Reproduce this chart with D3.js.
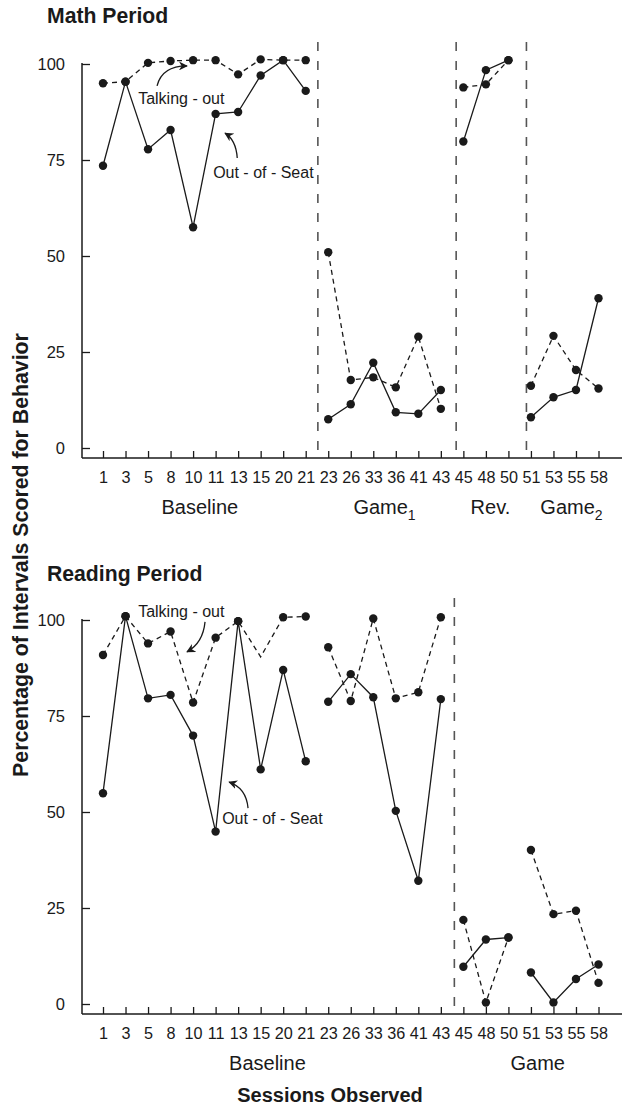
<!DOCTYPE html>
<html><head><meta charset="utf-8">
<script src="https://cdn.jsdelivr.net/npm/d3@7"></script>
<style>
html,body{margin:0;padding:0;background:#fff;}
svg{display:block;font-family:"Liberation Sans",Arial,Helvetica,sans-serif;}
</style></head>
<body>
<svg id="chart" width="626" height="1105"></svg>
<script>
// ---------- data ----------
const sessions = [1,3,5,8,10,11,13,15,20,21,23,26,33,36,41,43,45,48,50,51,53,55,58];
const yTicks = [0,25,50,75,100];
const segments = [[0,9],[10,15],[16,18],[19,22]];

const mathTalking   = [95.0,95.4,100.3,100.8,101,101,97.3,101.2,101,101, 51.0,17.7,18.4,15.8,29.0,10.2, 93.9,94.7,101, 16.2,29.2,20.3,15.5];
const mathOutOfSeat = [73.5,95.4,77.8,82.8,57.5,87.0,87.5,97.0,101,93.0, 7.5,11.4,22.2,9.3,8.9,15.1, 79.8,98.4,101, 8.0,13.2,15.1,39.0];
const readingTalking   = [90.9,101,93.9,97.0,78.5,95.4,99.7,90.4,100.7,100.9, 92.9,78.9,100.4,79.6,81.2,100.7, 21.9,0.4,17.3, 40.1,23.4,24.3,5.5];
const readingOutOfSeat = [54.9,101,79.6,80.5,69.9,44.9,99.7,61.1,87.0,63.2, 78.7,85.9,79.9,50.3,32.1,79.4, 9.7,16.8,17.3, 8.2,0.4,6.5,10.3];
const readingTalkingNoMarker = [7];

const mathPhaseBreaks = [9.54, 15.68, 18.8];
const readingPhaseBreaks = [15.6];
const mathPhaseNames = ["Baseline","Game","Rev.","Game"];
const mathPhaseSubs = ["","1","","2"];
const mathPhaseCenters = [4.3,12.5,17.2,20.8];
const readingPhaseNames = ["Baseline","Game"];
const readingPhaseSubs = ["",""];
const readingPhaseCenters = [7.3,19.3];

// ---------- layout ----------
const svg = d3.select("#chart");
const x = d3.scaleLinear().domain([0,22]).range([103,598.5]);
const ink = "#1a1a1a";

svg.append("defs").append("marker")
  .attr("id","arrow").attr("viewBox","0 0 10 10").attr("refX",9).attr("refY",5)
  .attr("markerWidth",9).attr("markerHeight",9).attr("markerUnits","userSpaceOnUse")
  .attr("orient","auto")
  .append("path").attr("d","M0,0 L10,5 L0,10 L3,5 Z").attr("fill",ink);

function panel(cfg){
  const y = d3.scaleLinear().domain([0,100]).range([cfg.y0, cfg.y0-384]);
  const axisY = cfg.y0 + 10;
  const g = svg.append("g");

  // title
  g.append("text").attr("x",47).attr("y",cfg.titleY).attr("font-size",21.2)
    .attr("font-weight","bold").attr("fill",ink).text(cfg.title);

  // phase lines
  g.selectAll(".phase").data(cfg.breaks).join("line")
    .attr("x1",d=>x(d)).attr("x2",d=>x(d))
    .attr("y1",cfg.phaseTop).attr("y2",axisY)
    .attr("stroke","#555").attr("stroke-width",1.6).attr("stroke-dasharray","9,10");

  // y axis
  const yAxis = d3.axisLeft(y).tickValues(yTicks).tickSizeInner(-8).tickSizeOuter(0).tickPadding(17);
  const ya = g.append("g").attr("transform","translate(82,0)").call(yAxis);
  ya.select(".domain").remove();
  ya.selectAll(".tick line").attr("stroke",ink).attr("stroke-width",1.3);
  ya.selectAll(".tick text").attr("font-size",16.5).attr("fill",ink).attr("font-family",null);
  g.append("line").attr("x1",82).attr("x2",82).attr("y1",y(100)-1).attr("y2",axisY)
    .attr("stroke",ink).attr("stroke-width",1.5);

  // x axis
  const xAxis = d3.axisBottom(x).tickValues(d3.range(sessions.length))
    .tickFormat(i=>sessions[i]).tickSizeInner(-7).tickSizeOuter(0).tickPadding(13);
  const xa = g.append("g").attr("transform",`translate(0,${axisY})`).call(xAxis);
  xa.select(".domain").remove();
  xa.selectAll(".tick line").attr("stroke",ink).attr("stroke-width",1.3);
  xa.selectAll(".tick text").attr("font-size",16.2).attr("fill",ink).attr("font-family",null);
  g.append("line").attr("x1",82).attr("x2",622).attr("y1",axisY).attr("y2",axisY)
    .attr("stroke",ink).attr("stroke-width",1.5);

  // phase labels
  cfg.phaseNames.forEach((n,i)=>{
    const t = g.append("text").attr("x",x(cfg.phaseCenters[i])).attr("y",axisY+56)
      .attr("text-anchor","middle").attr("font-size",20).attr("fill",ink).text(n);
    if(cfg.phaseSubs[i]) t.append("tspan").attr("font-size",14).attr("dy",6).text(cfg.phaseSubs[i]);
  });

  // series
  const line = d3.line().x(d=>x(d.i)).y(d=>y(d.v));
  const series = [
    {vals:cfg.talking, dash:"5,4", noMarker:cfg.noMarker||[]},
    {vals:cfg.out, dash:null, noMarker:[]}
  ];
  series.forEach(s=>{
    segments.forEach(([a,b])=>{
      const pts = d3.range(a,b+1).map(i=>({i, v:s.vals[i]}));
      g.append("path").attr("d",line(pts)).attr("fill","none").attr("stroke",ink)
        .attr("stroke-width",1.3).attr("stroke-dasharray",s.dash);
    });
  });
  series.forEach(s=>{
    g.selectAll(null).data(s.vals.map((v,i)=>({i,v})).filter(d=>!s.noMarker.includes(d.i)))
      .join("circle").attr("cx",d=>x(d.i)).attr("cy",d=>y(d.v)).attr("r",4.2).attr("fill",ink);
  });

  // annotations
  cfg.notes.forEach(n=>{
    g.append("text").attr("x",x(n.tx)).attr("y",y(n.ty)).attr("font-size",16)
      .attr("fill",ink).text(n.text);
    g.append("path")
      .attr("d",`M${x(n.a[0])},${y(n.a[1])} Q${x(n.c[0])},${y(n.c[1])} ${x(n.b[0])},${y(n.b[1])}`)
      .attr("fill","none").attr("stroke",ink).attr("stroke-width",1.3)
      .attr("marker-end","url(#arrow)");
  });
}

panel({
  title:"Math Period", titleY:23, y0:448, phaseTop:42,
  breaks:mathPhaseBreaks, phaseNames:mathPhaseNames, phaseSubs:mathPhaseSubs, phaseCenters:mathPhaseCenters,
  talking:mathTalking, out:mathOutOfSeat,
  notes:[
    {text:"Talking - out", tx:1.56, ty:89.6, a:[2.4,94.3], c:[2.62,99.5], b:[3.73,99.5]},
    {text:"Out - of - Seat", tx:4.89, ty:70.3, a:[5.96,75.5], c:[5.91,80.2], b:[5.42,82.0]}
  ]
});
panel({
  title:"Reading Period", titleY:581, y0:1004, phaseTop:598,
  breaks:readingPhaseBreaks, phaseNames:readingPhaseNames, phaseSubs:readingPhaseSubs, phaseCenters:readingPhaseCenters,
  talking:readingTalking, out:readingOutOfSeat, noMarker:readingTalkingNoMarker,
  notes:[
    {text:"Talking - out", tx:1.56, ty:100.8, a:[4.53,99.5], c:[4.44,94.0], b:[3.73,91.7]},
    {text:"Out - of - Seat", tx:5.29, ty:46.9, a:[6.44,51.0], c:[6.36,56.3], b:[5.6,57.8]}
  ]
});

// axis titles
svg.append("text").attr("transform","translate(28,555) rotate(-90)").attr("text-anchor","middle")
  .attr("font-size",21.3).attr("font-weight","bold").attr("fill",ink)
  .text("Percentage of Intervals Scored for Behavior");
svg.append("text").attr("x",330).attr("y",1102).attr("text-anchor","middle")
  .attr("font-size",20).attr("font-weight","bold").attr("fill",ink)
  .text("Sessions Observed");
</script>
</body></html>
